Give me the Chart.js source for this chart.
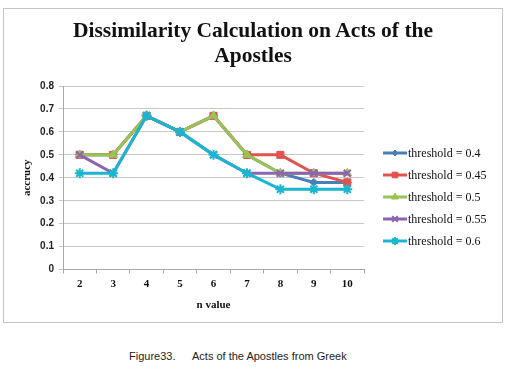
<!DOCTYPE html>
<html>
<head>
<meta charset="utf-8">
<script src="https://cdn.jsdelivr.net/npm/chart.js@4"></script>
<style>
  body { margin: 0; background: #fff; width: 506px; height: 367px; position: relative; overflow: hidden; }
  #caja { position: absolute; left: 3px; top: 8px; width: 498px; height: 313px; border: 1px solid #c4c4c4; }
  #caja canvas { position: absolute; left: 0; top: 0; }
  #titulo { position: absolute; left: 0; top: 9px; width: 498px; text-align: center; color: #111;
            font: bold 21.5px/25px "Liberation Serif", serif; }
  .pie { position: absolute; top: 350px; font: 11px "Liberation Sans", Arial, sans-serif; color: #222; white-space: pre; }
</style>
</head>
<body>
<div id="caja">
  <canvas id="grafico" width="498" height="313"></canvas>
  <div id="titulo">Dissimilarity Calculation on Acts of the<br>Apostles</div>
</div>
<div class="pie" style="left:129px">Figure33.</div>
<div class="pie" style="left:192px">Acts of the Apostles from Greek</div>
<script>
// datos
const valoresN = ['2', '3', '4', '5', '6', '7', '8', '9', '10'];
const umbral04  = [0.5, 0.5, 0.67, 0.6, 0.67, 0.5, 0.42, 0.38, 0.38];
const umbral045 = [0.5, 0.5, 0.67, 0.6, 0.67, 0.5, 0.5, 0.42, 0.38];
const umbral05  = [0.5, 0.5, 0.67, 0.6, 0.67, 0.5, 0.42, 0.42, 0.42];
const umbral055 = [0.5, 0.42, 0.67, 0.6, 0.5, 0.42, 0.42, 0.42, 0.42];
const umbral06  = [0.42, 0.42, 0.67, 0.6, 0.5, 0.42, 0.35, 0.35, 0.35];
const etiquetas = ['threshold = 0.4', 'threshold = 0.45', 'threshold = 0.5', 'threshold = 0.55', 'threshold = 0.6'];
const yTicks = [0, 0.1, 0.2, 0.3, 0.4, 0.5, 0.6, 0.7, 0.8];

const colores = ['#4a7ebb', '#e0534f', '#98c454', '#8e64b0', '#1ab5d0'];
const marcadores = ['rectRot', 'rect', 'triangle', 'crossRot', 'star'];
const radios = [4, 5, 5, 5, 5];
const series = [umbral04, umbral045, umbral05, umbral055, umbral06];

// la última serie queda encima, como en Excel
const datasets = series.map((datos, i) => ({
    label: etiquetas[i],
    data: datos,
    borderColor: colores[i],
    backgroundColor: colores[i],
    borderWidth: 3,
    pointStyle: marcadores[i],
    pointRadius: radios[i],
    pointBorderWidth: (marcadores[i] === 'crossRot' || marcadores[i] === 'star') ? 2 : 1,
    tension: 0,
    order: 5 - i
}));

// leyenda estilo Excel: línea con marcador en medio
const leyendaExcel = {
    id: 'leyendaExcel',
    afterDraw(chart) {
        const ctx = chart.ctx;
        const x0 = 379, x1 = 403, yBase = 144, paso = 22;
        ctx.save();
        chart.data.datasets.forEach((ds, i) => {
            const y = yBase + i * paso;
            ctx.strokeStyle = ds.borderColor;
            ctx.fillStyle = ds.backgroundColor;
            ctx.lineWidth = 3;
            ctx.beginPath();
            ctx.moveTo(x0, y);
            ctx.lineTo(x1, y);
            ctx.stroke();
            ctx.lineWidth = ds.pointBorderWidth;
            Chart.helpers.drawPoint(ctx, {
                pointStyle: ds.pointStyle,
                radius: ds.pointRadius - 1,
                rotation: 0,
                borderWidth: ds.pointBorderWidth
            }, (x0 + x1) / 2, y);
            ctx.fillStyle = '#111';
            ctx.font = '12px "Liberation Serif", serif';
            ctx.textBaseline = 'middle';
            ctx.fillText(ds.label, x1 + 1, y + 1);
        });
        ctx.restore();
    }
};

new Chart(document.getElementById('grafico'), {
    type: 'line',
    data: { labels: valoresN, datasets: datasets },
    plugins: [leyendaExcel],
    options: {
        responsive: false,
        animation: false,
        layout: { padding: { left: 17, right: 138, top: 77, bottom: 6 } },
        plugins: {
            legend: { display: false },
            tooltip: { enabled: false }
        },
        scales: {
            x: {
                offset: true,
                grid: { drawOnChartArea: false, offset: true, tickLength: 4, color: '#a8a8a8' },
                border: { color: '#a8a8a8' },
                ticks: { color: '#111', font: { family: '"Liberation Serif", serif', size: 11, weight: 'bold' }, padding: 4 },
                title: { display: true, text: 'n value', color: '#111', padding: { top: 4 },
                         font: { family: '"Liberation Serif", serif', size: 11, weight: 'bold' } }
            },
            y: {
                min: 0,
                max: 0.8,
                afterBuildTicks: axis => { axis.ticks = yTicks.map(v => ({ value: v })); },
                afterFit: axis => { axis.width = 42; },
                grid: { color: '#c8c8c8', tickLength: 4 },
                border: { color: '#a8a8a8' },
                ticks: { color: '#222', font: { family: '"Liberation Sans", Arial, sans-serif', size: 10, weight: 'bold' },
                         padding: 5, callback: v => (v === 0 ? '0' : v.toFixed(1)) },
                title: { display: true, text: 'accrucy', color: '#111', padding: 0,
                         font: { family: '"Liberation Serif", serif', size: 11, weight: 'bold' } }
            }
        }
    }
});
</script>
</body>
</html>
